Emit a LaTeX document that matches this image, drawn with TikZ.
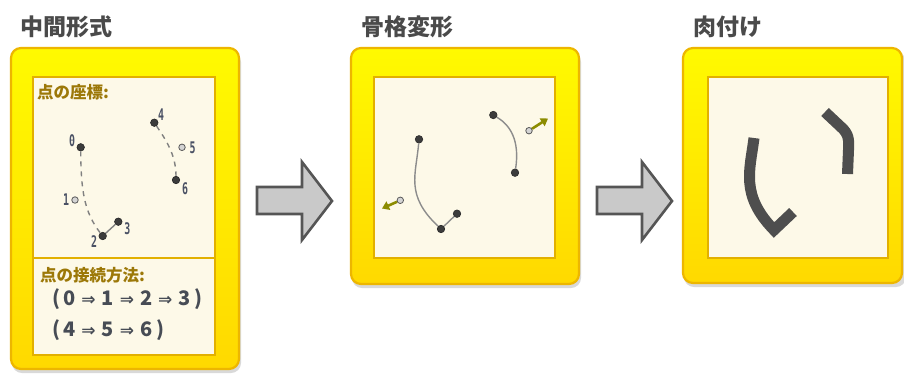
\documentclass[tikz,border=0pt]{standalone}
\usepackage{fontspec}
\usetikzlibrary{arrows.meta}
\newfontfamily\cjk{Noto Sans CJK JP}
\newfontfamily\djv{DejaVu Sans}
\newfontfamily\djm{DejaVu Sans Mono}
\definecolor{titlegray}{HTML}{4A4A4A}
\definecolor{panelborder}{HTML}{EDB600}
\definecolor{paneltop}{HTML}{FFFA00}
\definecolor{panelbot}{HTML}{FFD900}
\definecolor{innerfill}{HTML}{FDF9E8}
\definecolor{innerborder}{HTML}{E2B000}
\definecolor{headbrown}{HTML}{9C7808}
\definecolor{seqgray}{HTML}{474C55}
\definecolor{lblgray}{HTML}{4A5164}
\definecolor{dotdark}{HTML}{3C3C3C}
\definecolor{olive}{HTML}{8C8C00}
\definecolor{bigarrowfill}{HTML}{C9C9C9}
\definecolor{bigarrowdraw}{HTML}{555555}
\definecolor{fleshgray}{HTML}{4E4E4E}
\newcommand\seqar{\hspace{6pt}{\djv\fontsize{17}{17}\selectfont ⇒}\hspace{6pt}}
\begin{document}
\begin{tikzpicture}[x=1pt,y=-1pt,
  title/.style={anchor=west,inner sep=0pt,text=titlegray,font=\cjk\bfseries\fontsize{23}{23}\selectfont},
  head/.style={anchor=west,inner sep=0pt,text=headbrown,font=\cjk\bfseries\fontsize{16.5}{16.5}\selectfont},
  seq/.style={anchor=west,inner sep=0pt,text=seqgray,font=\cjk\bfseries\fontsize{20}{20}\selectfont},
  lbl/.style={inner sep=0pt,text=lblgray,font=\djm\bfseries\fontsize{16}{16}\selectfont},
  dotfull/.style={circle,fill=dotdark,draw=black!85,line width=0.6pt,minimum size=7.5pt,inner sep=0pt},
  dotopen/.style={circle,fill=black!17,draw=black!65,line width=0.8pt,minimum size=6.5pt,inner sep=0pt},
  outerpanel/.style={rounded corners=10pt,top color=paneltop,bottom color=panelbot,draw=panelborder,line width=2.2pt},
  shadowpanel/.style={rounded corners=10pt,fill=black,opacity=0.15},
  innerpanel/.style={fill=innerfill,draw=innerborder,line width=1.3pt},
  dashcurve/.style={draw=black!50,line width=1.4pt,dash pattern=on 5pt off 5pt},
  skel/.style={draw=black!45,line width=1.4pt},
  flesh/.style={draw=fleshgray,line width=11pt,line cap=butt,line join=miter},
  push/.style={draw=olive,line width=2.6pt,-{Triangle[length=7pt,width=9pt]}},
  bigarrow/.style={fill=bigarrowfill,draw=bigarrowdraw,line width=2.6pt,line join=miter}
]
\useasboundingbox (0,0) rectangle (904,373);
\fill[white] (0,0) rectangle (904,373);

% titles
\node[title] (t1) at (20,27) {中間形式};
\node[title] (t2) at (361,27) {骨格変形};
\node[title] (t3) at (693,27) {肉付け};

% shadows
\path[shadowpanel] (12,52) rectangle (241,373);
\path[shadowpanel] (352,52) rectangle (581,288);
\path[shadowpanel] (684,52) rectangle (906,287);

% outer panels
\path[outerpanel] (11,48) rectangle (239,369);
\path[outerpanel] (351,48) rectangle (579,284);
\path[outerpanel] (683,48) rectangle (902,283);

% inner panels
\path[innerpanel] (33,77) rectangle (215,355);
\draw[draw=innerborder,line width=1.3pt] (33,258) -- (215,258);
\path[innerpanel] (374,77) rectangle (555,258);
\path[innerpanel] (708,77) rectangle (888,258);

% big arrows
\draw[bigarrow] (257,187) -- (302,187) -- (302,162) -- (332,201) -- (302,240) -- (302,214) -- (257,214) -- cycle;
\draw[bigarrow] (597,187) -- (642,187) -- (642,162) -- (672,201) -- (642,240) -- (642,214) -- (597,214) -- cycle;

% ---- panel 1
\node[head] (h1) at (37,92) {点の座標:};
\node[head] (h2) at (40,275) {点の接続方法:};
\node[seq] (s1) at (52,299) {(\hspace{3pt}0\seqar 1\seqar 2\seqar 3\hspace{4pt})};
\node[seq] (s2) at (52,330) {(\hspace{3pt}4\seqar 5\seqar 6\hspace{4pt})};

\node[dotfull] (p0) at (80.7,147.3) {};
\node[dotopen] (p1) at (75,200) {};
\node[dotfull] (p2) at (102.7,236) {};
\node[dotfull] (p3) at (118.3,221.7) {};
\node[dotfull] (p4) at (154.3,122.7) {};
\node[dotopen] (p5) at (182,147.3) {};
\node[dotfull] (p6) at (176,180) {};
\draw[dashcurve] (p0) .. controls (81,190) and (84,212) .. (p2);
\draw[dashcurve] (p4) .. controls (166,140) and (176,155) .. (p6);
\draw[draw=black!50,line width=1.4pt] (p2) -- (p3);

\node[lbl] (l0) at (72,141) {\scalebox{0.62}[1]{0}};
\node[lbl] (l1) at (66,200) {\scalebox{0.62}[1]{1}};
\node[lbl] (l2) at (94,242) {\scalebox{0.62}[1]{2}};
\node[lbl] (l3) at (127.3,229) {\scalebox{0.62}[1]{3}};
\node[lbl] (l4) at (161,114.5) {\scalebox{0.62}[1]{4}};
\node[lbl] (l5) at (192.7,147.5) {\scalebox{0.62}[1]{5}};
\node[lbl] (l6) at (185,188.5) {\scalebox{0.62}[1]{6}};

% ---- panel 2
\node[dotfull] (a) at (419,139.3) {};
\node[dotfull] (b) at (441,229) {};
\node[dotfull] (c) at (457,213.7) {};
\node[dotfull] (d) at (493.3,115) {};
\node[dotfull] (e) at (515,172.7) {};
\draw[skel] (a) .. controls (416,175) and (405,195) .. (b);
\draw[skel] (b) -- (c);
\draw[skel] (d) .. controls (510,125) and (520,140) .. (e);
\node[dotopen] (f) at (529,130.7) {};
\node[dotopen] (g) at (400.3,200.3) {};
\coordinate (fend) at (548,118.5);
\coordinate (gend) at (382,208.5);
\draw[push] (f) -- (fend);
\draw[push] (g) -- (gend);

% ---- panel 3
\draw[flesh] (754,138) .. controls (750,170) and (740,195) .. (774,230) -- (793,212);
\draw[flesh] (825,112) -- (841,127) .. controls (849,134) and (849,140) .. (848.5,150) -- (847.5,174);
\end{tikzpicture}
\end{document}
